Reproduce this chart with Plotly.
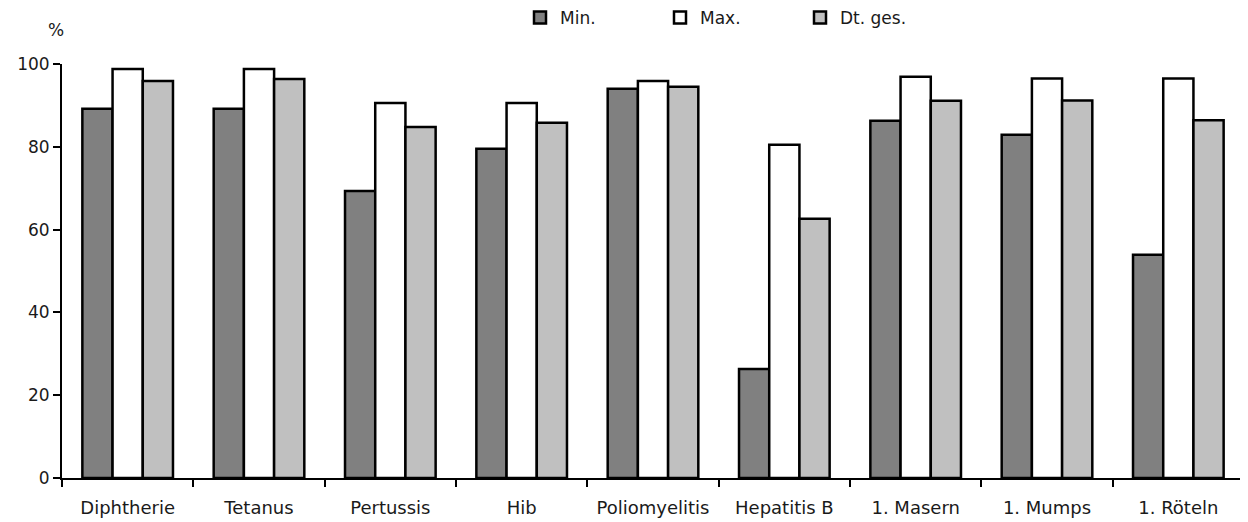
import plotly.graph_objects as go

categories = ["Diphtherie", "Tetanus", "Pertussis", "Hib", "Poliomyelitis",
              "Hepatitis B", "1. Masern", "1. Mumps", "1. Röteln"]
min_vals = [89.2, 89.2, 69.3, 79.5, 94.0, 26.3, 86.3, 82.9, 53.9]
max_vals = [98.8, 98.8, 90.6, 90.6, 95.9, 80.5, 96.9, 96.5, 96.5]
dt_vals = [95.9, 96.4, 84.8, 85.8, 94.5, 62.6, 91.1, 91.2, 86.4]
y_ticks = [0, 20, 40, 60, 80, 100]

FONT = "DejaVu Sans"
TXT = "#1a1a1a"

# page body has an 8px default margin; margins compensate for it
L, R, T, B = 54, 12, 56, 52
W, H = 1248, 522
PW = W - L - R

fig = go.Figure()
for name, vals, color in [("Min.", min_vals, "#808080"),
                          ("Max.", max_vals, "#FFFFFF"),
                          ("Dt. ges.", dt_vals, "#C0C0C0")]:
    fig.add_trace(go.Bar(
        x=categories, y=vals, name=name,
        marker=dict(color=color, line=dict(color="black", width=2.5)),
    ))

fig.update_layout(
    width=W, height=H,
    barmode="group", bargap=0.31, bargroupgap=0,
    plot_bgcolor="white", paper_bgcolor="white",
    margin=dict(l=L, r=R, t=T, b=B, autoexpand=False),
    font=dict(family=FONT, size=16, color=TXT),
    showlegend=True,
    legend=dict(orientation="h", x=(512 - L) / PW, xref="paper", xanchor="left",
                y=0.981, yref="container", yanchor="middle",
                entrywidth=95, entrywidthmode="pixels",
                itemwidth=30, font=dict(size=17, color=TXT),
                traceorder="normal"),
    xaxis=dict(showline=True, linecolor="black", linewidth=2,
               ticks="outside", tickson="boundaries", ticklen=7,
               tickwidth=2, tickcolor="black", showgrid=False,
               automargin=False, ticklabelstandoff=12,
               tickfont=dict(size=18, color=TXT)),
    yaxis=dict(range=[0, 100], tickvals=y_ticks, showline=True,
               linecolor="black", linewidth=2, ticks="outside", ticklen=7,
               tickwidth=2, tickcolor="black", showgrid=False, zeroline=False,
               automargin=False,
               tickfont=dict(size=17, color=TXT)),
    annotations=[dict(text="%", xref="paper", yref="paper", x=-0.005, y=1.082,
                      xanchor="center", yanchor="middle", showarrow=False,
                      font=dict(size=17, color=TXT))],
)

fig.write_html("out.html")
